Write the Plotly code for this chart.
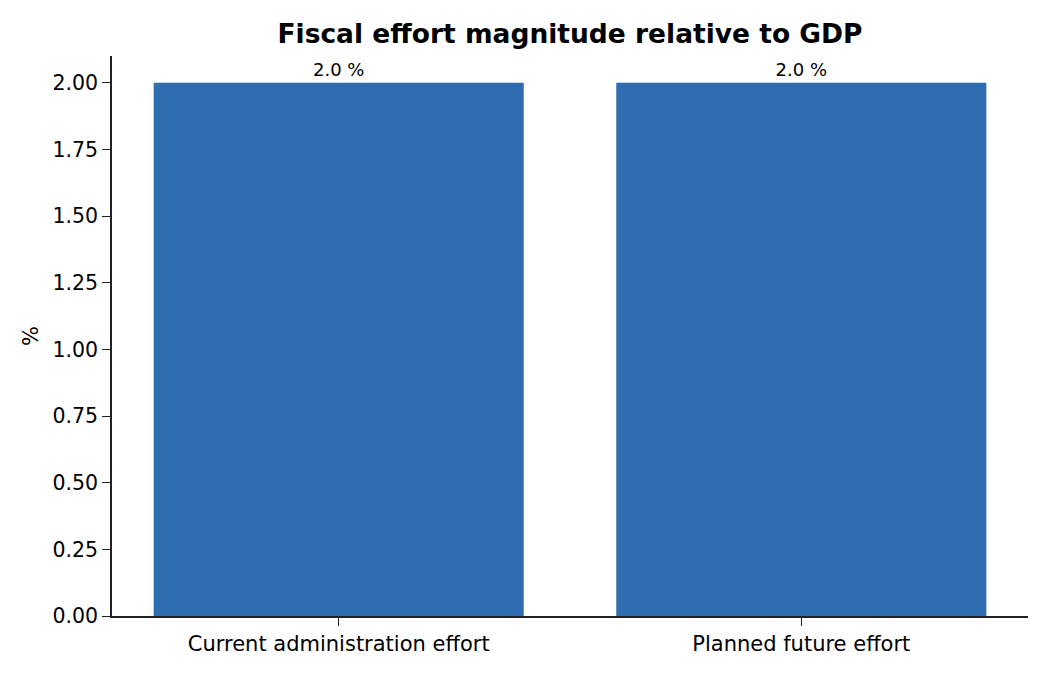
import plotly.graph_objects as go

# Data
categories = ["Current administration effort", "Planned future effort"]
values = [2.0, 2.0]
tick_vals = [0.0, 0.25, 0.5, 0.75, 1.0, 1.25, 1.5, 1.75, 2.0]
tick_text = ["0.00", "0.25", "0.50", "0.75", "1.00", "1.25", "1.50", "1.75", "2.00"]

bar_color = "#2E6DB0"
font_family = "DejaVu Sans"

fig = go.Figure()

fig.add_trace(go.Bar(
    x=categories,
    y=values,
    width=0.8,
    marker=dict(color=bar_color, line=dict(width=0)),
    text=[f"{v:.1f} %" for v in values],
    textposition="outside",
    textfont=dict(family=font_family, size=18, color="black"),
    cliponaxis=False,
    showlegend=False,
))

fig.update_layout(
    width=1050,
    height=675,
    plot_bgcolor="white",
    paper_bgcolor="white",
    margin=dict(l=104, r=30, t=48, b=67),
    font=dict(family=font_family, color="black"),
    title=dict(
        text="<b>Fiscal effort magnitude relative to GDP</b>",
        x=0.5, xref="paper", xanchor="center",
        y=0.962, yref="container", yanchor="middle",
        font=dict(family=font_family, size=26.5, color="black"),
    ),
    bargap=0.2,
)

fig.update_xaxes(
    range=[-0.49, 1.49],
    showline=True, linecolor="#222222", linewidth=1.6,
    ticks="outside", ticklen=8, tickwidth=1.4, tickcolor="#222222",
    tickfont=dict(family=font_family, size=21, color="black"),
    showgrid=False, zeroline=False,
)

fig.update_yaxes(
    range=[0, 2.1],
    tickvals=tick_vals, ticktext=tick_text,
    showline=True, linecolor="#222222", linewidth=1.6,
    ticks="outside", ticklen=8, tickwidth=1.4, tickcolor="#222222",
    tickfont=dict(family=font_family, size=20.5, color="black"),
    title=dict(text="%", font=dict(family=font_family, size=21, color="black"), standoff=8),
    showgrid=False, zeroline=False,
)

fig.write_html("out.html")
